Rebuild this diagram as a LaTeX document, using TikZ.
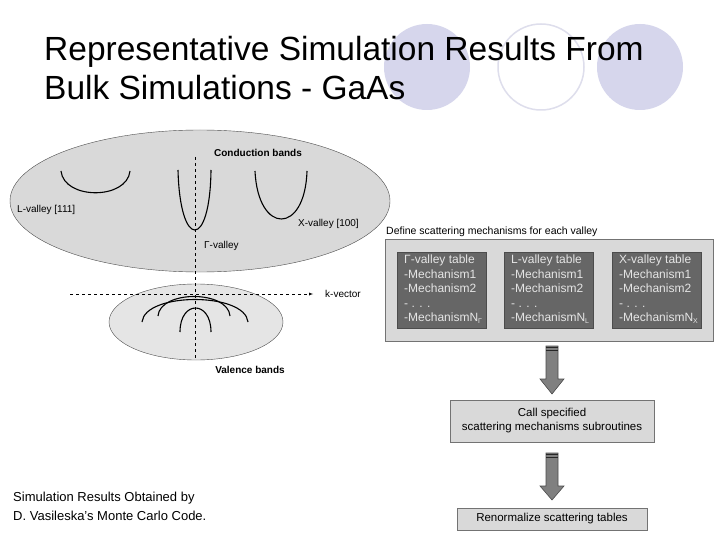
\documentclass[tikz,border=0pt]{standalone}
\usepackage{fontspec}
\setmainfont{Liberation Sans}
\usetikzlibrary{shapes.geometric}
\definecolor{lav}{RGB}{214,214,236}
\definecolor{lavl}{RGB}{222,222,236}
\begin{document}
\begin{tikzpicture}[x=1pt,y=-1pt,
  curve/.style={line width=1.1pt},
  lab/.style={font=\fontsize{10}{11}\selectfont,inner sep=0pt},
  blab/.style={font=\fontsize{10}{11}\selectfont\bfseries,inner sep=0pt},
  tab/.style={draw=black!70,fill=black!60,text=black!10,align=left,anchor=north west,inner sep=0pt,font=\fontsize{12}{14.5}\selectfont},
  lbox/.style={draw=black!55,fill=black!15,line width=0.8pt},
  bigarrow/.style={draw=black!70,fill=black!50,line width=0.6pt}]
\useasboundingbox (0,0) rectangle (720,540);
\fill[white] (0,0) rectangle (720,540);
% decorative circles
\fill[lav] (427,67) circle (43);
\draw[lavl,line width=1.5pt] (541,67) circle (43);
\fill[lav] (640,67) circle (43);
\node[anchor=west,inner sep=0pt,font=\fontsize{33.5}{34}\selectfont,align=left] (title) at (44,68) {Representative Simulation Results From\\[5pt]Bulk Simulations - GaAs};
% ellipses
\node[draw=black!70,fill=black!15,ellipse,minimum width=380pt,minimum height=142pt,inner sep=0pt] (cb) at (200,201) {};
\node[draw=black!70,fill=black!10,ellipse,minimum width=174pt,minimum height=76pt,inner sep=0pt] (vb) at (196,322) {};
\coordinate (vt) at (195,157); \coordinate (vbm) at (195,360);
\draw[dashed] (vt) -- (vbm);
\coordinate (ks) at (70,294); \coordinate (ke) at (313,294);
\draw[dashed,-latex] (ks) -- (ke);
\node[lab,anchor=west] (kv) at (325,294) {k-vector};
% conduction curves
\draw[curve] (61,171) .. controls (64,200) and (127,200) .. (130,171);
\draw[curve] (178,170) .. controls (180,250) and (210,250) .. (211,170);
\draw[curve] (255,171) .. controls (258,235) and (305,235) .. (307,171);
% valence curves
\draw[curve] (142,322) .. controls (145,292) and (245,292) .. (248,322);
\draw[curve] (158,316) .. controls (160,290) and (228,290) .. (230,316);
\draw[curve] (180,332) .. controls (180,300) and (211,300) .. (211,332);
\node[blab] (cbl) at (258,153) {Conduction bands};
\node[lab,anchor=west] (ll) at (17,210) {L-valley [111]};
\node[lab,anchor=west] (xl) at (298,224) {X-valley [100]};
\node[lab,anchor=west] (gl) at (204,246) {Γ-valley};
\node[blab] (vbl) at (250,370) {Valence bands};
% right side
\node[lab,anchor=west,font=\fontsize{10.5}{11}\selectfont] (hdr) at (386,232) {Define scattering mechanisms for each valley};
\draw[lbox] (385,239) rectangle (713,341);
\node[tab,minimum width=89pt,minimum height=76pt] (t1) at (397,252) {};
\node[tab,minimum width=89pt,minimum height=76pt] (t2) at (504,252) {};
\node[tab,minimum width=89pt,minimum height=76pt] (t3) at (612,252) {};
\node[tab,draw=none,fill=none,inner xsep=7pt,inner ysep=3pt] at (t1.north west) {Γ-valley table\\-Mechanism1\\-Mechanism2\\- . . .\\-MechanismN\textsubscript{\fontsize{7}{7}\selectfont Γ}};
\node[tab,draw=none,fill=none,inner xsep=7pt,inner ysep=3pt] at (t2.north west) {L-valley table\\-Mechanism1\\-Mechanism2\\- . . .\\-MechanismN\textsubscript{\fontsize{7}{7}\selectfont L}};
\node[tab,draw=none,fill=none,inner xsep=7pt,inner ysep=3pt] at (t3.north west) {X-valley table\\-Mechanism1\\-Mechanism2\\- . . .\\-MechanismN\textsubscript{\fontsize{7}{7}\selectfont X}};
\node[lbox,minimum width=204pt,minimum height=42pt,align=center,font=\fontsize{11.5}{14}\selectfont] (call) at (552,421) {Call specified\\scattering mechanisms subroutines};
\node[lbox,minimum width=190pt,minimum height=22pt,font=\fontsize{11.5}{14}\selectfont] (ren) at (552,519) {Renormalize scattering tables};
% arrows
\draw[bigarrow] (546,346) -- (558,346) -- (558,379) -- (564,379) -- (552,394) -- (540,379) -- (546,379) -- cycle;
\draw[bigarrow] (546,453) -- (558,453) -- (558,486) -- (564,486) -- (552,500) -- (540,486) -- (546,486) -- cycle;
\foreach \y in {347.5,350.5}{\draw[black!85,line width=1.2pt] (546,\y) -- (558,\y);}
\foreach \y in {454.5,457.5}{\draw[black!85,line width=1.2pt] (546,\y) -- (558,\y);}
% bottom text
\node[anchor=north west,align=left,inner sep=0pt,font=\fontsize{13}{19}\selectfont] (src) at (13,492) {Simulation Results Obtained by\\D. Vasileska's Monte Carlo Code.};
\end{tikzpicture}
\end{document}
